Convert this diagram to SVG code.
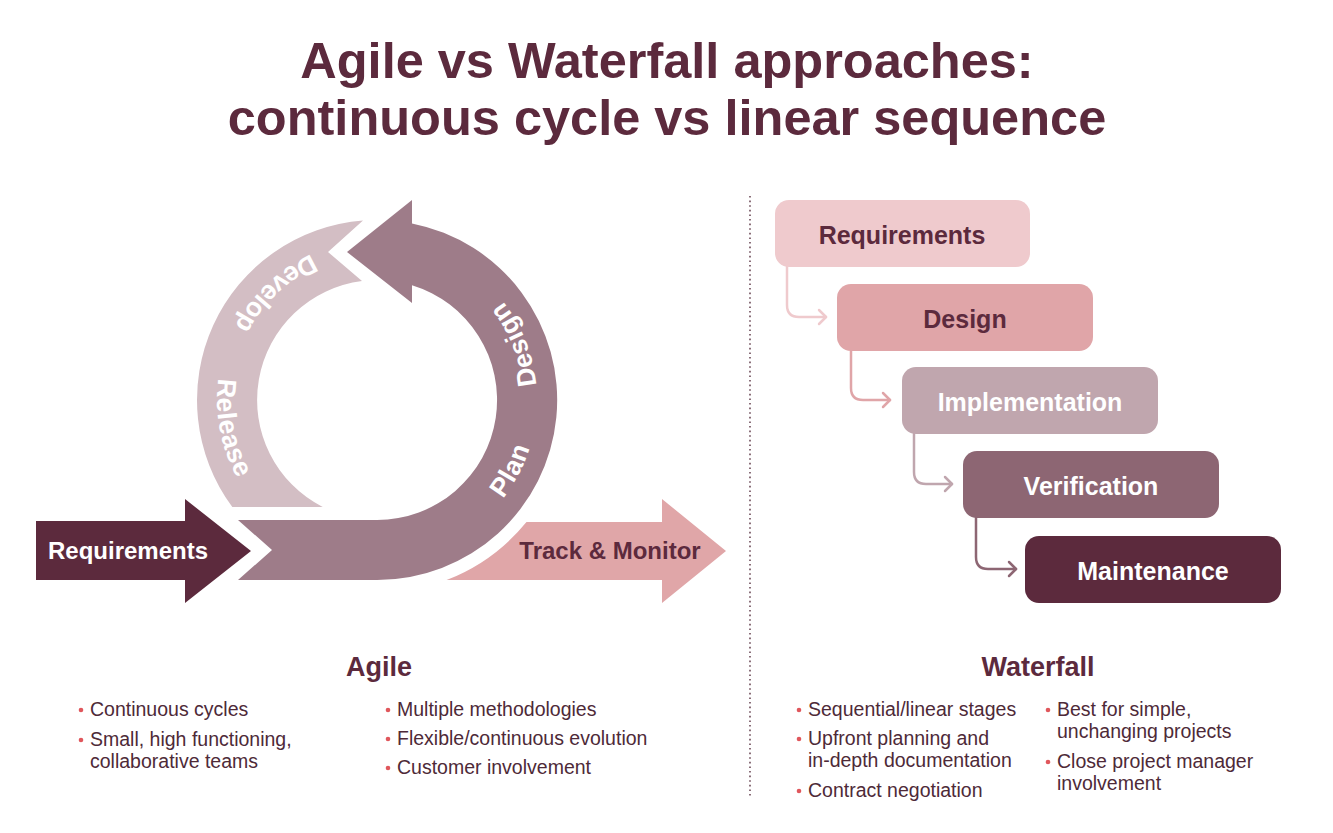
<svg xmlns="http://www.w3.org/2000/svg" width="1333" height="833" viewBox="0 0 1333 833">
  <style>
    .title { font-family: "Liberation Sans", Arial, sans-serif; font-weight: bold; font-size: 50.5px; fill: #5c2a3d; text-anchor: middle; }
    .head { font-family: "Liberation Sans", Arial, sans-serif; font-weight: bold; font-size: 27px; fill: #5c2a3d; text-anchor: middle; }
    .body { font-family: "Liberation Sans", Arial, sans-serif; font-size: 19.5px; fill: #4e2a38; }
    .bul { fill: #e0575c; }
    .ring { font-family: "Liberation Sans", Arial, sans-serif; font-weight: bold; font-size: 26.5px; letter-spacing: 0.6px; fill: #ffffff; }
    .lbl { font-family: "Liberation Sans", Arial, sans-serif; font-weight: bold; font-size: 24px; text-anchor: middle; }
    .box { font-family: "Liberation Sans", Arial, sans-serif; font-weight: bold; font-size: 25px; text-anchor: middle; }
    .conn { fill: none; stroke-width: 2.5; stroke-linecap: round; stroke-linejoin: round; }
  </style>
  <defs>
    <path id="ringPath" d="M 377,560 A 160 160 0 0 0 377,240 A 160 160 0 0 0 377,560"/>
    <marker id="m1" markerUnits="userSpaceOnUse" markerWidth="16" markerHeight="18" refX="9" refY="9" orient="auto"><path d="M2,2 L9,9 L2,16" fill="none" stroke="#efcacd" stroke-width="2.5" stroke-linecap="round" stroke-linejoin="round"/></marker>
    <marker id="m2" markerUnits="userSpaceOnUse" markerWidth="16" markerHeight="18" refX="9" refY="9" orient="auto"><path d="M2,2 L9,9 L2,16" fill="none" stroke="#e0a5a8" stroke-width="2.5" stroke-linecap="round" stroke-linejoin="round"/></marker>
    <marker id="m3" markerUnits="userSpaceOnUse" markerWidth="16" markerHeight="18" refX="9" refY="9" orient="auto"><path d="M2,2 L9,9 L2,16" fill="none" stroke="#c0a6ae" stroke-width="2.5" stroke-linecap="round" stroke-linejoin="round"/></marker>
    <marker id="m4" markerUnits="userSpaceOnUse" markerWidth="16" markerHeight="18" refX="9" refY="9" orient="auto"><path d="M2,2 L9,9 L2,16" fill="none" stroke="#8d6673" stroke-width="2.5" stroke-linecap="round" stroke-linejoin="round"/></marker>
  </defs>
  <rect width="1333" height="833" fill="#ffffff"/>

  <g id="title">
    <text class="title" x="667" y="78">Agile vs Waterfall approaches:</text>
    <text class="title" x="667" y="135">continuous cycle vs linear sequence</text>
  </g>

  <!-- Agile cycle -->
  <g id="agile-release-develop">
    <path d="M 322.7,507 L 232.3,507 A 180 180 0 0 1 363,220.5 L 328,252 L 362,281 A 120 120 0 0 0 322.7,507 Z" fill="#d3bec4"/>
  </g>
  <g id="agile-plan-design">
    <path d="M 238,520 L 272,550 L 238,580 L 377,580 A 180 180 0 0 0 412,223.4 L 412,200 L 347,252 L 412,303 L 412,285.2 A 120 120 0 0 1 377,520 Z" fill="#9e7c89"/>
  </g>
  <g id="agile-requirements">
    <path d="M 36,521 L 185,521 L 185,499 L 251,551 L 185,603 L 185,580 L 36,580 Z" fill="#5c2a3d"/>
    <text class="lbl" x="128" y="559" fill="#ffffff">Requirements</text>
  </g>
  <g id="agile-track">
    <path d="M 526.5,522 L 662,522 L 662,499 L 726,551 L 662,603 L 662,580 L 446.6,580 A 193 193 0 0 0 526.5,522 Z" fill="#e0a6a8"/>
    <text class="lbl" x="610" y="559" fill="#5c2a3d">Track &amp; Monitor</text>
  </g>
  <g id="agile-ring-labels">
    <text class="ring" text-anchor="middle"><textPath href="#ringPath" startOffset="174">Plan</textPath></text>
    <text class="ring" text-anchor="middle"><textPath href="#ringPath" startOffset="312">Design</textPath></text>
    <text class="ring" text-anchor="middle"><textPath href="#ringPath" startOffset="624">Develop</textPath></text>
    <text class="ring" text-anchor="middle"><textPath href="#ringPath" startOffset="784">Release</textPath></text>
  </g>

  <!-- divider -->
  <line x1="750" y1="196" x2="750" y2="796" stroke="#6d4a57" stroke-width="1.6" stroke-dasharray="1.6 3"/>

  <!-- Waterfall -->
  <g id="connectors">
    <path class="conn" d="M 787,267 L 787,305 Q 787,317 799,317 L 826,317" stroke="#efcacd" marker-end="url(#m1)"/>
    <path class="conn" d="M 851,351 L 851,388 Q 851,400 863,400 L 890,400" stroke="#e0a5a8" marker-end="url(#m2)"/>
    <path class="conn" d="M 914,434 L 914,472 Q 914,484 926,484 L 952,484" stroke="#c0a6ae" marker-end="url(#m3)"/>
    <path class="conn" d="M 976,518 L 976,557 Q 976,569 988,569 L 1016,569" stroke="#8d6673" marker-end="url(#m4)"/>
  </g>
  <g id="wf-requirements">
    <rect x="775" y="200" width="255" height="67" rx="14" fill="#efcacd"/>
    <text class="box" x="902" y="244" fill="#5c2a3d">Requirements</text>
  </g>
  <g id="wf-design">
    <rect x="837" y="284" width="256" height="67" rx="14" fill="#e0a5a8"/>
    <text class="box" x="965" y="328" fill="#5c2a3d">Design</text>
  </g>
  <g id="wf-implementation">
    <rect x="902" y="367" width="256" height="67" rx="14" fill="#c0a6ae"/>
    <text class="box" x="1030" y="411" fill="#ffffff">Implementation</text>
  </g>
  <g id="wf-verification">
    <rect x="963" y="451" width="256" height="67" rx="14" fill="#8d6673"/>
    <text class="box" x="1091" y="495" fill="#ffffff">Verification</text>
  </g>
  <g id="wf-maintenance">
    <rect x="1025" y="536" width="256" height="67" rx="14" fill="#5c2a3d"/>
    <text class="box" x="1153" y="580" fill="#ffffff">Maintenance</text>
  </g>

  <!-- Agile notes -->
  <g id="agile-notes">
    <text class="head" x="379" y="676">Agile</text>
    <circle class="bul" cx="81" cy="710" r="2.3"/>
    <text class="body" x="90" y="716">Continuous cycles</text>
    <circle class="bul" cx="81" cy="740" r="2.3"/>
    <text class="body" x="90" y="746">Small, high functioning,</text>
    <text class="body" x="90" y="768">collaborative teams</text>
    <circle class="bul" cx="388" cy="710" r="2.3"/>
    <text class="body" x="397" y="716">Multiple methodologies</text>
    <circle class="bul" cx="388" cy="739" r="2.3"/>
    <text class="body" x="397" y="745">Flexible/continuous evolution</text>
    <circle class="bul" cx="388" cy="768" r="2.3"/>
    <text class="body" x="397" y="774">Customer involvement</text>
  </g>

  <!-- Waterfall notes -->
  <g id="waterfall-notes">
    <text class="head" x="1038" y="676">Waterfall</text>
    <circle class="bul" cx="799" cy="710" r="2.3"/>
    <text class="body" x="808" y="716">Sequential/linear stages</text>
    <circle class="bul" cx="799" cy="739" r="2.3"/>
    <text class="body" x="808" y="745">Upfront planning and</text>
    <text class="body" x="808" y="767">in-depth documentation</text>
    <circle class="bul" cx="799" cy="791" r="2.3"/>
    <text class="body" x="808" y="797">Contract negotiation</text>
    <circle class="bul" cx="1048" cy="710" r="2.3"/>
    <text class="body" x="1057" y="716">Best for simple,</text>
    <text class="body" x="1057" y="738">unchanging projects</text>
    <circle class="bul" cx="1048" cy="762" r="2.3"/>
    <text class="body" x="1057" y="768">Close project manager</text>
    <text class="body" x="1057" y="790">involvement</text>
  </g>
</svg>
